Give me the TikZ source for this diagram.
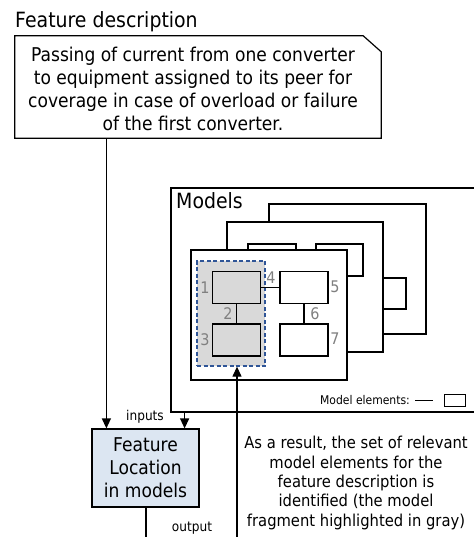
\documentclass[tikz,border=0pt]{standalone}
\usepackage{fontspec}
\setmainfont{DejaVu Sans}[FakeStretch=0.9]
\usetikzlibrary{arrows.meta}
\definecolor{flblue}{HTML}{DCE6F2}
\definecolor{hlgray}{HTML}{D9D9D9}
\definecolor{dashblue}{HTML}{2F5597}
\definecolor{lblgray}{HTML}{808080}
\tikzset{
  ln/.style={line width=1.2pt, draw=black},
  arr/.style={ln, -{Triangle[length=10pt,width=9pt]}},
  page/.style={ln, fill=white},
  elem/.style={ln, fill=white, minimum width=48pt, minimum height=32pt, inner sep=0pt},
  selem/.style={elem, fill=hlgray},
  num/.style={text=lblgray, font=\fontsize{16}{18}\selectfont, inner sep=0pt},
  bigtxt/.style={font=\fontsize{19}{23}\selectfont, align=center, inner sep=0pt},
  smalltxt/.style={font=\fontsize{13.5}{15}\selectfont, inner sep=0pt},
}
\begin{document}
\begin{tikzpicture}[x=1pt,y=-1pt]
\useasboundingbox (0,0) rectangle (473,537);
% Feature description
\node[anchor=base west, inner sep=0pt, font=\fontsize{21}{24}\selectfont] (fdlabel) at (15,28) {Feature description};
\node[minimum width=366pt, minimum height=102pt, inner sep=0pt] (descbox) at (198,87) {};
\draw[ln] (descbox.north west) -- ([xshift=-18pt]descbox.north east) -- ([yshift=-16pt]descbox.north east) -- (descbox.south east) -- (descbox.south west) -- cycle;
\node[bigtxt] (desc) at (193,89) {Passing of current from one converter\\to equipment assigned to its peer for\\coverage in case of overload or failure\\of the first converter.};

% Models
\node[anchor=base west, inner sep=0pt, font=\fontsize{21}{24}\selectfont] (mlabel) at (176,208) {Models};
\draw[ln] (480,188) -- (171,188) -- (171,412) -- (480,412);
\draw[page] (269,204) rectangle (426,334);
\draw[ln] (370,278) rectangle (406,309);
\draw[page] (227,222) rectangle (383,352);
\draw[ln] (248,244) rectangle (296,262);
\draw[ln] (316,244) rectangle (363,276);
\draw[page] (191,250) rectangle (347,380);
\node[draw=dashblue, dash pattern=on 4pt off 2.5pt, line width=1.3pt, fill=hlgray, minimum width=68pt, minimum height=105pt, inner sep=0pt] (frag) at (231,313.5) {};
\node[selem] (e1) at (236.5,287.5) {};
\node[selem] (e3) at (236.5,340) {};
\node[elem] (e5) at (304,287.5) {};
\node[elem] (e7) at (304,340) {};
\draw[ln] (e1) -- (e5);
\draw[ln] (e1) -- (e3);
\draw[ln] (e5) -- (e7);
\node[num] (n1) at (205,288) {1};
\node[num] (n2) at (228,314) {2};
\node[num] (n3) at (205,340) {3};
\node[num] (n4) at (271,278) {4};
\node[num] (n5) at (335,287) {5};
\node[num] (n6) at (315,314) {6};
\node[num] (n7) at (335,339) {7};
% legend
\node[smalltxt, font=\fontsize{12}{14}\selectfont, anchor=east] (legtxt) at (410,400) {Model elements:};
\coordinate (l1) at (415,400);
\coordinate (l2) at (433,400);
\draw[line width=1pt] (l1) -- (l2);
\node[draw, line width=1pt, minimum width=21pt, minimum height=12pt, inner sep=0pt] (legbox) at (455,400) {};

% Feature location
\node[ln, fill=flblue, minimum width=107pt, minimum height=78pt, inner sep=0pt, bigtxt] (fl) at (145.5,468) {Feature\\Location\\in models};
\coordinate (in1) at ([xshift=15pt]fl.north west);
\coordinate (in2) at ([xshift=-15pt]fl.north east);
\draw[arr] (descbox.south -| in1) -- (in1);
\draw[arr] (171,412 -| in2) -- (in2);
\node[smalltxt] (inputs) at (145,417) {inputs};
\coordinate (outend) at (146,540);
\draw[ln] (fl.south -| outend) -- (outend);
\node[smalltxt] (output) at (192,528) {output};
\coordinate (upstart) at (237,540);
\draw[arr] (upstart) -- (frag.south -| upstart);
\node[bigtxt, font=\fontsize{16.4}{19.3}\selectfont] (result) at (356,483) {As a result, the set of relevant\\model elements for the\\feature description is\\identified (the model\\fragment highlighted in gray)};
\end{tikzpicture}
\end{document}
